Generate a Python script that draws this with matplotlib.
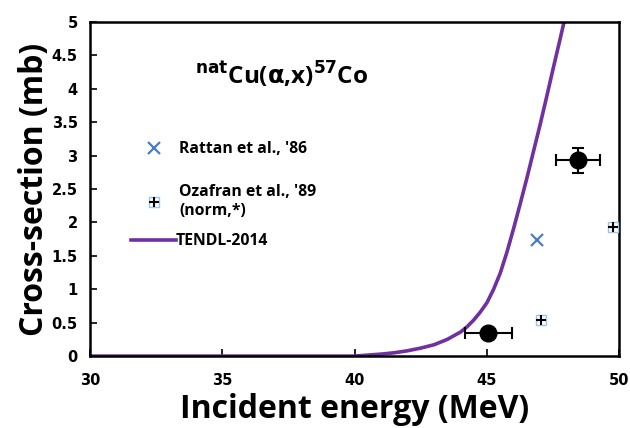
import matplotlib
matplotlib.use("Agg")
import matplotlib.pyplot as plt
from matplotlib.legend_handler import HandlerTuple
import numpy as np

# TENDL-2014 excitation function
tendl_e = [30, 32, 34, 36, 38, 40, 40.5, 41, 41.5, 42, 42.5, 43, 43.5, 44, 44.25, 44.5, 44.75, 45, 45.25,
           45.5, 45.75, 46, 46.25, 46.5, 46.75, 47, 47.25, 47.5, 47.75, 48.0, 48.2]
tendl_xs = [0, 0, 0, 0, 0, 0.0, 0.015, 0.03, 0.05, 0.08, 0.12, 0.17, 0.25, 0.36, 0.44, 0.54, 0.66, 0.8, 1.0,
            1.24, 1.55, 1.9, 2.27, 2.65, 3.05, 3.45, 3.87, 4.3, 4.72, 5.15, 5.5]

rattan_e = [46.9]
rattan_xs = [1.73]

ozafran_e = [47.05, 49.75]
ozafran_xs = [0.54, 1.93]

present_e = [45.05, 48.45]
present_xs = [0.34, 2.93]
present_de = [0.88, 0.83]
present_dxs = [0.0, 0.19]

purple = "#7030A0"
blue = "#4A7CC7"
legend_font = {"family": "Open Sans", "weight": "bold", "size": 11.3}

fig = plt.figure(figsize=(6.3, 4.28), dpi=100)
ax = fig.add_axes([0.143, 0.168, 0.84, 0.781])

line, = ax.plot(tendl_e, tendl_xs, color=purple, lw=2.6, zorder=2)
rat, = ax.plot(rattan_e, rattan_xs, ls="none", marker="x", ms=8, mew=1.6, color=blue, zorder=3)
oz_sq, = ax.plot(ozafran_e, ozafran_xs, ls="none", marker="s", ms=7, mfc="white", mec="#9DC3E6", mew=1.0, zorder=3)
oz_pl, = ax.plot(ozafran_e, ozafran_xs, ls="none", marker="+", ms=7, mew=1.5, color="black", zorder=4)
ax.errorbar(present_e, present_xs, xerr=present_de, yerr=present_dxs, fmt="o", ms=12,
            color="black", ecolor="black", elinewidth=1.5, capsize=4, capthick=1.5, zorder=5)

ax.set_xlim(30, 50)
ax.set_ylim(0, 5)
ax.set_xticks([30, 35, 40, 45, 50])
ax.set_yticks(np.arange(0, 5.01, 0.5))
ax.set_yticklabels(["0", "0.5", "1", "1.5", "2", "2.5", "3", "3.5", "4", "4.5", "5"])
ax.tick_params(direction="in", length=5, width=1.2, labelsize=10.5)
ax.tick_params(axis="x", pad=12)
ax.tick_params(axis="y", pad=9)
for lab in ax.get_xticklabels() + ax.get_yticklabels():
    lab.set_fontweight("bold")
for s in ax.spines.values():
    s.set_linewidth(1.8)

ax.set_xlabel("Incident energy (MeV)", fontsize=23, fontweight="bold", family="Open Sans", labelpad=4)
ax.set_ylabel("Cross-section (mb)", fontsize=23, fontweight="bold", family="Open Sans", labelpad=0)

ax.text(0.198, 0.84, r"$^{\mathbf{nat}}$Cu($\mathbf{\alpha}$,x)$^{\mathbf{57}}$Co", transform=ax.transAxes,
        fontsize=17.5, fontweight="bold", family="Open Sans", va="center", ha="left")

leg1 = ax.legend([rat, (oz_sq, oz_pl)],
                 ["Rattan et al., '86", "Ozafran et al., '89\n(norm,*)"],
                 handler_map={tuple: HandlerTuple(ndivide=1)},
                 loc="center left", bbox_to_anchor=(0.051, 0.527), frameon=False,
                 labelspacing=1.75, handlelength=2.85, handletextpad=0.22, prop=legend_font)
ax.add_artist(leg1)
ax.legend([line], ["TENDL-2014"], loc="center left", bbox_to_anchor=(0.051, 0.344), frameon=False,
          handlelength=2.85, handletextpad=0.0, prop=legend_font)

fig.savefig("out.png", dpi=100)
